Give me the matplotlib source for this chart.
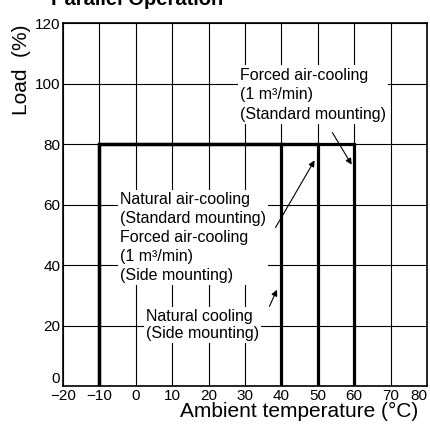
import matplotlib.pyplot as plt

plt.rcParams['font.family'] = ['Liberation Sans', 'DejaVu Sans']

# derating curves: (temperature, load)
curve_temps = [[-10, -10, 40, 40], [-10, -10, 50, 50], [-10, -10, 60, 60]]
curve_loads = [[0, 80, 80, 0], [0, 80, 80, 0], [0, 80, 80, 0]]

xticks = [-20, -10, 0, 10, 20, 30, 40, 50, 60, 70, 80]
xticklabels = ['\u221220', '\u221210', '0', '10', '20', '30', '40', '50', '60', '70', '80']
yticks = [0, 20, 40, 60, 80, 100, 120]

fig = plt.figure(figsize=(4.3, 4.3), dpi=100)
ax = fig.add_axes([0.1465, 0.1023, 0.8465, 0.844])

for t, l in zip(curve_temps, curve_loads):
    ax.plot(t, l, color='black', lw=2.3, solid_joinstyle='miter', zorder=4)

ax.set_xlim(-20, 80)
ax.set_ylim(0, 120)
ax.set_xticks(xticks)
ax.set_xticklabels(xticklabels)
ax.set_yticks(yticks)
ax.tick_params(length=0, labelsize=11, pad=2)
ax.get_yticklabels()[0].set_va('bottom')
ax.get_xticklabels()[-1].set_ha('right')
ax.grid(True, color='black', lw=0.8)
for s in ax.spines.values():
    s.set_linewidth(1.2)

box = dict(facecolor='white', edgecolor='none', pad=1.5)
ax.text(28.6, 105.3, 'Forced air-cooling\n(1 m\u00b3/min)\n(Standard mounting)',
        fontsize=11.5, va='top', ha='left', linespacing=1.4, bbox=box, zorder=3)
ax.text(-4.3, 64.1, 'Natural air-cooling\n(Standard mounting)\nForced air-cooling\n'
        '(1 m\u00b3/min)\n(Side mounting)',
        fontsize=11.5, va='top', ha='left', linespacing=1.32, bbox=box, zorder=3)
ax.text(2.8, 25.5, 'Natural cooling\n(Side mounting)',
        fontsize=11.5, va='top', ha='left', linespacing=1.15, bbox=box, zorder=3)

arrow = dict(arrowstyle='-|>', color='black', lw=0.8, mutation_scale=9)
ax.annotate('', xy=(59.7, 72.4), xytext=(53.6, 84.6), arrowprops=arrow, zorder=5)
ax.annotate('', xy=(49.5, 75.4), xytext=(38.0, 51.6), arrowprops=arrow, zorder=5)
ax.annotate('', xy=(39.1, 32.7), xytext=(36.4, 25.5), arrowprops=arrow, zorder=5)

fig.text(0.695, 0.042, 'Ambient temperature (\u00b0C)', fontsize=15, ha='center', va='center')
fig.text(0.051, 0.837, 'Load  (%)', fontsize=15, rotation=90, ha='center', va='center')
fig.text(0.318, 0.988, 'Parallel Operation', fontsize=14.5, fontweight='bold',
         ha='center', va='baseline')

fig.savefig('out.png', dpi=100)
